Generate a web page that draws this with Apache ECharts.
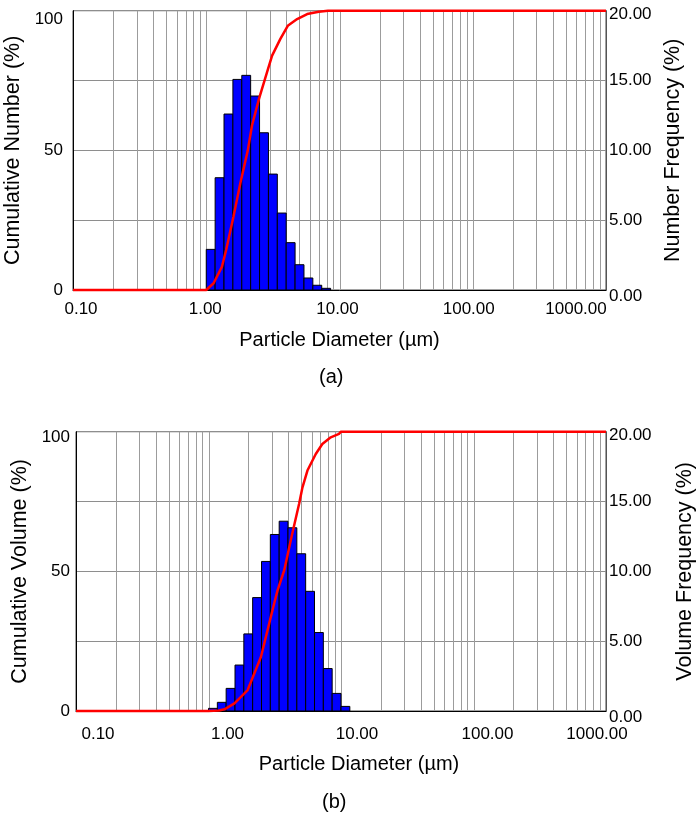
<!DOCTYPE html>
<html><head><meta charset="utf-8">
<script src="https://cdn.jsdelivr.net/npm/echarts@6/dist/echarts.min.js"></script>
<style>html,body{margin:0;padding:0;background:#fff}#c{width:699px;height:821px}</style>
</head><body><div id="c"></div>
<script>
const FONT = "'Liberation Sans',Arial,sans-serif";
const TICK_FS = 17;

// ---- data (a): number distribution ----
const binEdgesA = [1.0, 1.166, 1.359, 1.585, 1.848, 2.154, 2.512, 2.929, 3.415, 3.981, 4.642, 5.412, 6.310, 7.356, 8.577];
const numberFreq = [2.91, 8.04, 12.6, 15.08, 15.37, 13.89, 11.26, 8.30, 5.51, 3.39, 1.81, 0.86, 0.34, 0.12];
const cumNumberX = [0.1, 1.0, 1.135, 1.31, 1.41, 1.60, 1.80, 2.05, 2.205, 2.49, 2.86, 3.12, 3.60, 4.09, 4.81, 5.72, 6.99, 8.2, 1000];
const cumNumberY = [0, 0, 2.4, 8.3, 14.3, 26.2, 38.1, 50, 58.9, 68.5, 78, 83.9, 89.9, 94.6, 97, 98.8, 99.6, 100, 100];

// ---- data (b): volume distribution ----
const binEdgesB = [1.0, 1.166, 1.359, 1.585, 1.848, 2.154, 2.512, 2.929, 3.415, 3.981, 4.642, 5.412, 6.310, 7.356, 8.577, 10.0, 11.66];
const volumeFreq = [0.19, 0.62, 1.62, 3.29, 5.52, 8.12, 10.71, 12.64, 13.59, 13.12, 11.26, 8.57, 5.62, 3.04, 1.26, 0.33];
const cumVolumeX = [0.1, 1.0, 1.2, 1.32, 1.57, 1.975, 2.22, 2.49, 2.87, 3.13, 3.32, 3.73, 4.23, 4.83, 5.12, 5.58, 6.45, 7.23, 8.37, 9.66, 10.0, 1000];
const cumVolumeY = [0, 0, 0.2, 0.6, 2.75, 7.5, 13.5, 19.4, 31.3, 38.5, 43.2, 50.4, 62.3, 74.2, 80.1, 86.1, 92, 95.6, 98, 99.2, 100, 100];

// ---- ticks ----
const xTickValues = [0.1, 1, 10, 100, 1000];
const xTickLabels = ['0.10', '1.00', '10.00', '100.00', '1000.00'];
const cumTickValues = [0, 50, 100];
const cumTickLabels = ['0', '50', '100'];
const freqTickValues = [0, 5, 10, 15, 20];
const freqTickLabels = ['0.00', '5.00', '10.00', '15.00', '20.00'];
const gridDecades = [0.1, 1, 10, 100];
const gridMultipliers = [1, 2, 3, 4, 5, 6, 7, 8, 9];

const gridLineValues = [];
gridDecades.forEach(d => gridMultipliers.forEach(m => { if (!(d === 0.1 && m === 1)) gridLineValues.push(d * m); }));

function pairs(xs, ys) { return xs.map((x, i) => [x, ys[i]]); }
function bins(edges, freq) { return freq.map((f, i) => [edges[i], edges[i + 1], f]); }

function findIdx(vals, v) {
  return vals.findIndex(t => Math.abs(t - v) < 1e-6 * Math.max(1, Math.abs(t)));
}
function findLogIdx(vals, v) {
  return vals.findIndex(t => Math.abs(Math.log10(t) - Math.log10(v)) < 1e-6);
}

function shiftRich(shifts, prefix) {
  const r = {};
  shifts.forEach((s, i) => {
    r[prefix + i] = {
      fontFamily: FONT, fontSize: TICK_FS, color: '#000',
      padding: s >= 0 ? [0, 0, 0, 2 * s] : [0, -2 * s, 0, 0]
    };
  });
  return r;
}
const shiftsA = [8, -1, -2, -4, -30];
const shiftsB = [22, 19, 16, 14, -9];

function xAxisCfg(gridIndex, shifts, prefix, margin, nameGap, namePad) {
  return {
    type: 'log', logBase: 10, min: 0.1, max: 1000, gridIndex,
    axisLine: { show: true, lineStyle: { color: '#000', width: 1 } },
    axisTick: { show: false },
    splitLine: { show: false },
    minorSplitLine: { show: false },
    axisLabel: {
      margin,
      formatter: v => { const i = findLogIdx(xTickValues, v); return i < 0 ? '' : '{' + prefix + i + '|' + xTickLabels[i] + '}'; },
      rich: shiftRich(shifts, prefix)
    },
    name: 'Particle Diameter (\u00b5m)', nameLocation: 'middle', nameGap,
    nameTextStyle: { fontFamily: FONT, fontSize: 20, color: '#000', padding: namePad }
  };
}

function yLeft(gridIndex, name, margin, topPad) {
  return {
    type: 'value', min: 0, max: 100, interval: 25, gridIndex, position: 'left',
    axisLine: { show: true, lineStyle: { color: '#000', width: 1 } },
    axisTick: { show: false },
    splitLine: { show: false },
    axisLabel: {
      margin,
      formatter: v => { const i = findIdx(cumTickValues, v); return i < 0 ? '' : (i === 2 ? '{t|' + cumTickLabels[i] + '}' : '{n|' + cumTickLabels[i] + '}'); },
      rich: {
        n: { fontFamily: FONT, fontSize: TICK_FS, color: '#000' },
        t: { fontFamily: FONT, fontSize: TICK_FS, color: '#000', padding: [topPad, 0, 0, 0] }
      }
    },
    name, nameLocation: 'middle', nameRotate: 90, nameGap: 38,
    nameTextStyle: { fontFamily: FONT, fontSize: 21.5, color: '#000' }
  };
}

function yRight(gridIndex, name, nameGap) {
  return {
    type: 'value', min: 0, max: 20, interval: 5, gridIndex, position: 'right',
    axisLine: { show: true, lineStyle: { color: '#555', width: 1 } },
    axisTick: { show: false },
    splitLine: { show: true, lineStyle: { color: '#8e8e8e', width: 1 } },
    axisLabel: {
      margin: 3,
      formatter: v => { const i = findIdx(freqTickValues, v); if (i < 0) return ''; return (i === 0 ? '{z|' : (i === 4 ? '{t|' : '{n|')) + freqTickLabels[i] + '}'; },
      rich: {
        n: { fontFamily: FONT, fontSize: TICK_FS, color: '#000' },
        z: { fontFamily: FONT, fontSize: TICK_FS, color: '#000', padding: [12, 0, 0, 0] },
        t: { fontFamily: FONT, fontSize: TICK_FS, color: '#000', padding: [8, 0, 0, 0] }
      }
    },
    name, nameLocation: 'middle', nameRotate: 90, nameGap,
    nameTextStyle: { fontFamily: FONT, fontSize: 21.5, color: '#000' }
  };
}

function barRender(params, api) {
  const lo = api.value(0), hi = api.value(1), f = api.value(2);
  const p0 = api.coord([lo, f]);
  const p1 = api.coord([hi, 0]);
  return {
    type: 'rect',
    shape: { x: p0[0], y: p0[1], width: p1[0] - p0[0], height: p1[1] - p0[1] },
    style: { fill: '#0000ff', stroke: '#000', lineWidth: 1 }
  };
}
function vLineRender(params, api) {
  const cs = params.coordSys;
  const x = Math.round(api.coord([api.value(0), 10])[0]) + 0.5;
  return {
    type: 'line',
    shape: { x1: x, y1: cs.y, x2: x, y2: cs.y + cs.height },
    style: { stroke: '#9c9c9c', lineWidth: 1 }
  };
}

const chart = echarts.init(document.getElementById('c'), null, { renderer: 'canvas' });
chart.setOption({
  animation: false,
  backgroundColor: '#fff',
  grid: [
    { left: 73, top: 10.7, width: 533, height: 279.3, show: true, borderColor: '#444', borderWidth: 1, containLabel: false, outerBoundsMode: 'none' },
    { left: 76, top: 431.7, width: 530, height: 279.3, show: true, borderColor: '#444', borderWidth: 1, containLabel: false, outerBoundsMode: 'none' }
  ],
  xAxis: [
    xAxisCfg(0, shiftsA, 'a', 11, 40, [0, 0, 0, 0]),
    xAxisCfg(1, shiftsB, 'b', 15, 43, [0, 0, 0, 36])
  ],
  yAxis: [
    yLeft(0, 'Cumulative Number (%)', 10, 18),
    yRight(0, 'Number Frequency (%)', 52),
    yLeft(1, 'Cumulative Volume (%)', 6, 12),
    yRight(1, 'Volume Frequency (%)', 68)
  ],
  series: [
    { type: 'custom', xAxisIndex: 0, yAxisIndex: 1, renderItem: vLineRender, data: gridLineValues.map(v => [v]), encode: { x: 0 }, silent: true, z: 1 },
    { type: 'custom', xAxisIndex: 1, yAxisIndex: 3, renderItem: vLineRender, data: gridLineValues.map(v => [v]), encode: { x: 0 }, silent: true, z: 1 },
    { type: 'custom', name: 'Number Frequency', xAxisIndex: 0, yAxisIndex: 1, renderItem: barRender, data: bins(binEdgesA, numberFreq), encode: { x: [0, 1], y: 2 }, z: 3 },
    { type: 'custom', name: 'Volume Frequency', xAxisIndex: 1, yAxisIndex: 3, renderItem: barRender, data: bins(binEdgesB, volumeFreq), encode: { x: [0, 1], y: 2 }, z: 3 },
    { type: 'line', name: 'Cumulative Number', xAxisIndex: 0, yAxisIndex: 0, data: pairs(cumNumberX, cumNumberY), showSymbol: false, symbol: 'none', lineStyle: { color: '#ff0000', width: 2.5 }, z: 5, clip: false },
    { type: 'line', name: 'Cumulative Volume', xAxisIndex: 1, yAxisIndex: 2, data: pairs(cumVolumeX, cumVolumeY), showSymbol: false, symbol: 'none', lineStyle: { color: '#ff0000', width: 2.5 }, z: 5, clip: false }
  ],
  graphic: [
    { type: 'text', left: 319, top: 367, style: { text: '(a)', font: '20px ' + FONT, fill: '#000' } },
    { type: 'text', left: 322, top: 792, style: { text: '(b)', font: '20px ' + FONT, fill: '#000' } }
  ]
});
</script>
</body></html>
